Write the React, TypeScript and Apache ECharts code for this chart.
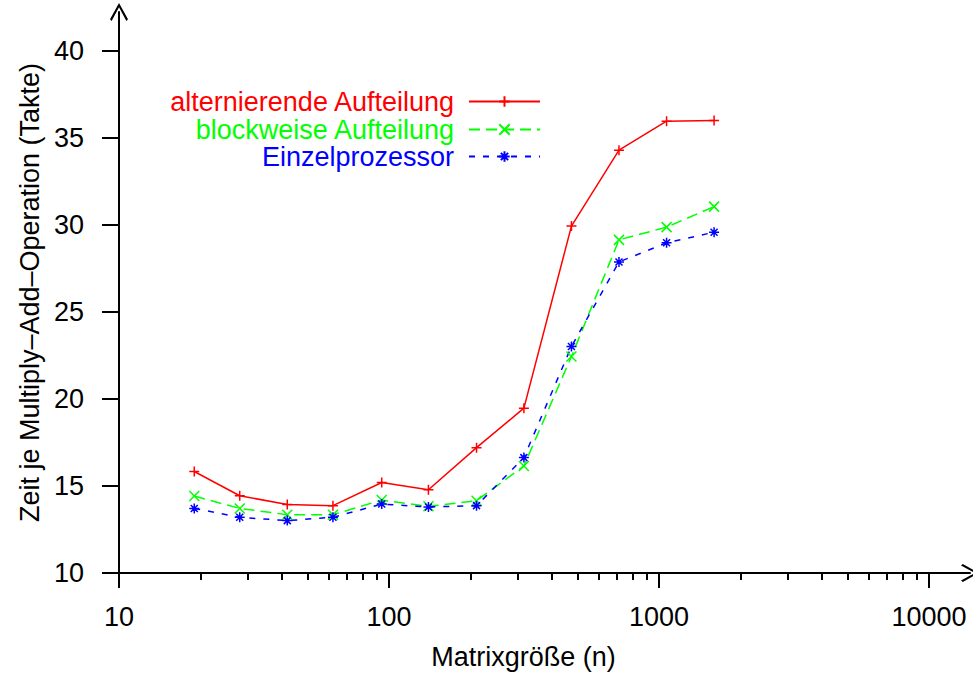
import React, { useEffect, useRef } from "react";
import * as echarts from "echarts";

const matrixSizes = [19, 28, 42, 62, 94, 140, 211, 316, 474, 711, 1067, 1600];
const alternierende = [15.83, 14.44, 13.93, 13.87, 15.2, 14.78, 17.2, 19.47, 29.93, 34.29, 35.96, 36.0];
const blockweise = [14.42, 13.71, 13.35, 13.35, 14.19, 13.83, 14.15, 16.15, 22.44, 29.14, 29.87, 31.05];
const einzelprozessor = [13.71, 13.2, 13.01, 13.2, 13.96, 13.79, 13.87, 16.63, 23.01, 27.87, 28.97, 29.58];

const xMajorTicks = [10, 100, 1000, 10000];
const xMinorTicks = [20, 30, 40, 50, 60, 70, 80, 90, 200, 300, 400, 500, 600, 700, 800, 900, 2000, 3000, 4000, 5000, 6000, 7000, 8000, 9000];
const yTicks = [10, 15, 20, 25, 30, 35, 40];

const seriesNames = ["alternierende Aufteilung", "blockweise Aufteilung", "Einzelprozessor"];
const seriesColors = ["#ff0000", "#00ff00", "#0000ff"];

const FONT = "'Liberation Sans', Arial, Helvetica, sans-serif";
const FS = 27;
const PLUS = "path://M0,50 L100,50 M50,0 L50,100";
const CROSS = "path://M0,0 L100,100 M100,0 L0,100";
const STAR = "path://M0,50 L100,50 M50,0 L50,100 M15,15 L85,85 M85,15 L15,85";
const CHEVRON = "path://M50,0 L100,90 L91,100 L50,24 L9,100 L0,90 Z";

export default function App() {
  const ref = useRef<HTMLDivElement>(null);
  useEffect(() => {
    if (!ref.current) return;
    const chart = echarts.init(ref.current, undefined, { renderer: "svg" });
    const mk = (vals: number[]) => matrixSizes.map((x, i) => [x, vals[i]]);
    const symbols = [PLUS, CROSS, STAR];
    const dashes: any[] = ["solid", [11, 6], [6, 8]];
    const datas = [alternierende, blockweise, einzelprozessor];
    const legendTops = [83, 111, 138];
    chart.setOption({
      animation: false,
      textStyle: { fontFamily: FONT },
      grid: { left: 119, right: 3, top: 12, bottom: 99, containLabel: false },
      legend: seriesNames.map((n, i) => ({
        data: [n],
        right: 427,
        top: legendTops[i],
        align: "right",
        itemWidth: 71,
        itemHeight: 13,
        selectedMode: false,
        textStyle: { color: seriesColors[i], fontSize: FS, fontFamily: FONT, padding: [0, 10, 0, 0] },
      })),
      xAxis: [
        {
          type: "log",
          logBase: 10,
          min: 10,
          max: 14190,
          gridIndex: 0,
          position: "bottom",
          name: "Matrixgröße (n)",
          nameLocation: "middle",
          nameGap: 70,
          nameTextStyle: { fontSize: FS, color: "#000", fontFamily: FONT, padding: [0, 42, 0, 0] },
          axisLine: { show: true, lineStyle: { color: "#000", width: 2 }, symbol: ["none", CHEVRON], symbolSize: [18, 18], symbolOffset: [0, 0] },
          axisTick: { show: true, length: 15, lineStyle: { color: "#000", width: 2 }, customValues: xMajorTicks },
          axisLabel: { show: true, fontSize: FS, color: "#000", margin: 30, fontFamily: FONT, customValues: xMajorTicks, formatter: (v: number) => String(Math.round(v)) },
          splitLine: { show: false },
        },
        {
          type: "log",
          logBase: 10,
          min: 10,
          max: 14190,
          gridIndex: 0,
          position: "bottom",
          offset: 0,
          axisLine: { show: false },
          axisTick: { show: true, length: 7, lineStyle: { color: "#000", width: 2 }, customValues: xMinorTicks },
          axisLabel: { show: false },
          splitLine: { show: false },
        },
      ],
      yAxis: {
        type: "value",
        min: 10,
        max: 42.23,
        interval: 5,
        name: "Zeit je Multiply–Add–Operation (Takte)",
        nameLocation: "middle",
        nameGap: 72,
        nameTextStyle: { fontSize: FS, color: "#000", fontFamily: FONT },
        axisLine: { show: true, lineStyle: { color: "#000", width: 2 }, symbol: ["none", CHEVRON], symbolSize: [18, 18], symbolOffset: [0, 0] },
        axisTick: { show: true, length: 17, lineStyle: { color: "#000", width: 2 }, customValues: yTicks },
        axisLabel: { show: true, fontSize: FS, color: "#000", margin: 35, fontFamily: FONT, customValues: yTicks },
        splitLine: { show: false },
      },
      series: seriesNames.map((n, i) => ({
        name: n,
        type: "line",
        xAxisIndex: 0,
        data: mk(datas[i]),
        symbol: symbols[i],
        symbolSize: 10,
        showSymbol: true,
        itemStyle: { color: seriesColors[i], borderColor: seriesColors[i], borderWidth: 1.5 },
        lineStyle: { color: seriesColors[i], width: 1.5, type: dashes[i] },
      })),
    });
    return () => chart.dispose();
  }, []);
  return <div ref={ref} style={{ position: "absolute", left: 0, top: 0, width: 973, height: 675 }} />;
}
